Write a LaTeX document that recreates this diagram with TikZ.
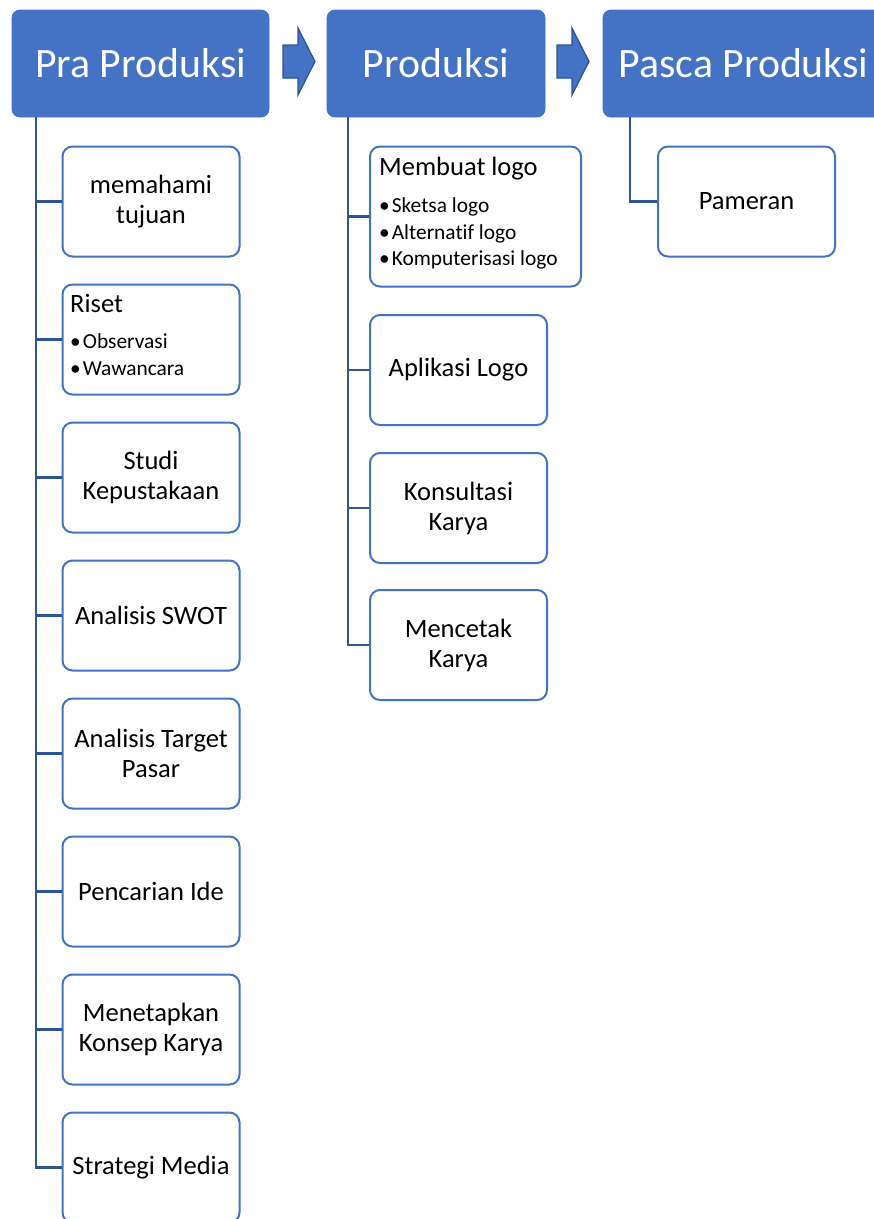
\documentclass[tikz,border=0pt]{standalone}
\usepackage{fontspec}
\setmainfont[Ligatures=NoCommon,RawFeature={-liga;-clig;-calt}]{Carlito}
\definecolor{hdr}{HTML}{4472C4}
\definecolor{hdrline}{HTML}{2F528F}
\definecolor{conn}{HTML}{2F5597}
\newcommand{\bodyfont}{\fontsize{26.5}{30}\selectfont}
\newcommand{\bulfont}{\fontsize{21.4}{26}\selectfont}
\newcommand{\hdrfont}{\fontsize{41.8}{48}\selectfont}
\tikzset{
  header/.style={fill=hdr, draw=hdr, line width=0.8pt, rounded corners=8pt, text=white, font=\hdrfont, inner sep=0pt, minimum height=107pt},
  childbox/.style={draw=hdr, line width=2pt, fill=white, rounded corners=10pt, align=center, font=\bodyfont, inner sep=0pt, minimum width=177pt, minimum height=110pt},
  wire/.style={draw=conn, line width=2.8pt},
  blockarrow/.style={fill=hdr, draw=hdrline, line width=1.2pt, line join=miter},
  listtitle/.style={anchor=base west, font=\bodyfont, inner sep=0pt},
  listitem/.style={anchor=base west, font=\bulfont, inner sep=0pt},
}
\begin{document}
\begin{tikzpicture}[x=1pt, y=-1pt]
\useasboundingbox (0,0) rectangle (874,1219);
\clip (0,0) rectangle (874,1219);
\fill[white] (0,0) rectangle (874,1219);

% headers
\node[header, minimum width=257pt] (pra) at (140.5,63.5) {Pra Produksi};
\node[header, minimum width=218pt] (prod) at (436,63.5) {Produksi};
\node[header, minimum width=281pt] (pasca) at (743.5,63.5) {Pasca Produksi};

% block arrows
\draw[blockarrow] (283,45)--(298,45)--(298,28)--(315,61.5)--(298,95)--(298,78)--(283,78)--cycle;
\draw[blockarrow] (557,45)--(572,45)--(572,28)--(589,61.5)--(572,95)--(572,78)--(557,78)--cycle;

% left column
\node[childbox] (a1) at (151,201.5) {memahami\\tujuan};
\node[childbox] (a2) at (151,339.5) {};
\node[childbox] (a3) at (151,477.5) {Studi\\Kepustakaan};
\node[childbox] (a4) at (151,615.5) {Analisis SWOT};
\node[childbox] (a5) at (151,753.5) {Analisis Target\\Pasar};
\node[childbox] (a6) at (151,891.5) {Pencarian Ide};
\node[childbox] (a7) at (151,1029.5) {Menetapkan\\Konsep Karya};
\node[childbox] (a8) at (151,1167.5) {Strategi Media};

\node[listtitle] (a2t) at (70,312) {Riset};
\node[listitem] (a2i1) at (70,348) {\textbullet\hspace{2pt}Observasi};
\node[listitem] (a2i2) at (70,375) {\textbullet\hspace{2pt}Wawancara};

\coordinate (ta) at (36,117);
\draw[wire] (ta) |- (a8.west);
\foreach \n in {a1,a2,a3,a4,a5,a6,a7} \draw[wire] (ta |- \n.west) -- (\n.west);

% middle column
\node[childbox, minimum width=211pt, minimum height=140pt] (b1) at (475.5,216.5) {};
\node[listtitle] (b1t) at (379,175) {Membuat logo};
\node[listitem] (b1i1) at (379,212) {\textbullet\hspace{2pt}Sketsa logo};
\node[listitem] (b1i2) at (379,239) {\textbullet\hspace{2pt}Alternat\kern0pt{}if logo};
\node[listitem] (b1i3) at (379,265) {\textbullet\hspace{2pt}Komputerisasi logo};
\node[childbox] (b2) at (458.5,370) {Aplikasi Logo};
\node[childbox] (b3) at (458.5,508) {Konsultasi\\Karya};
\node[childbox] (b4) at (458.5,645) {Mencetak\\Karya};

\coordinate (tb) at (348,117);
\draw[wire] (tb) |- (b4.west);
\foreach \n in {b1,b2,b3} \draw[wire] (tb |- \n.west) -- (\n.west);

% right column
\node[childbox] (c1) at (746.5,201.5) {Pameran};
\coordinate (tc) at (630,117);
\draw[wire] (tc) |- (c1.west);
\end{tikzpicture}
\end{document}
